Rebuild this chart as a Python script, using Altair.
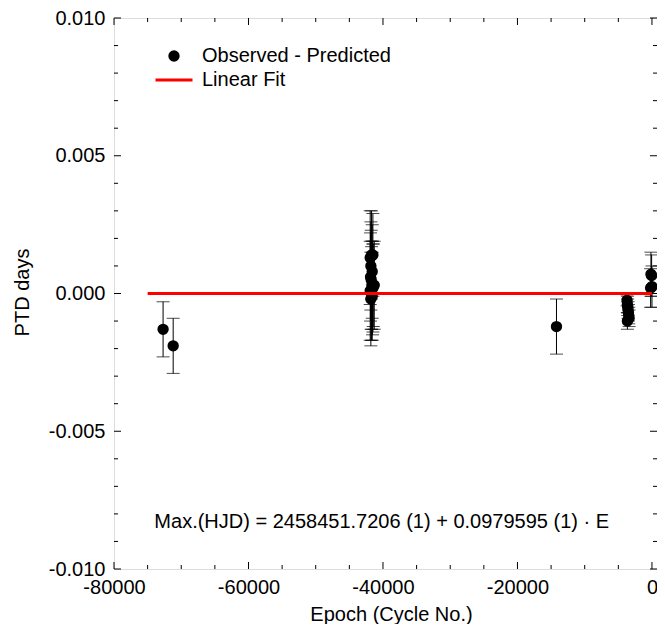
import altair as alt
import pandas as pd

OBS = "Observed - Predicted"
FIT = "Linear Fit"
FONT = "Liberation Sans"

# O-C data (epoch, residual in days, error in days)
epoch = [-72700, -71200,
         -41900, -41700, -41500, -41800, -41600, -41850, -41750, -41650,
         -41550, -41450, -41900, -41700, -41600, -41800, -41500, -41300,
         -14200,
         -3700, -3650, -3600, -3550, -3500, -3450, -3400, -3650,
         -150, -50, -200, 0]
oc = [-0.0013, -0.0019,
      0.0013, 0.0014, 0.0014, 0.0010, 0.0008, 0.0006, 0.0005, 0.0003,
      0.0002, 0.0003, 0.0001, 0.0000, -0.0001, -0.0002, 0.0002, 0.0003,
      -0.0012,
      -0.00025, -0.0004, -0.0005, -0.0006, -0.0007, -0.0008, -0.0009, -0.0010,
      0.0007, 0.00065, 0.0002, 0.00025]
err = [0.0010, 0.0010,
       0.0017, 0.0016, 0.0015, 0.0016, 0.0017, 0.0016, 0.0018, 0.0016,
       0.0017, 0.0015, 0.0018, 0.0017, 0.0016, 0.0017, 0.0016, 0.0016,
       0.0010,
       0.0002, 0.0003, 0.0003, 0.0003, 0.0003, 0.0003, 0.0003, 0.0003,
       0.0008, 0.00075, 0.0007, 0.00075]

fit_epoch = [-75000, 0]
fit_oc = [0.0, 0.0]

x_major = [-80000, -60000, -40000, -20000, 0]
x_minor = [-75000, -70000, -65000, -55000, -50000, -45000, -35000, -30000,
           -25000, -15000, -10000, -5000]
y_major = [-0.010, -0.005, 0.0, 0.005, 0.010]
y_minor = [-0.009, -0.008, -0.007, -0.006, -0.004, -0.003, -0.002, -0.001,
           0.001, 0.002, 0.003, 0.004, 0.006, 0.007, 0.008, 0.009]

equation = "Max.(HJD) = 2458451.7206 (1) + 0.0979595 (1) \u00b7 E"
eq_pos = [-74000, -0.0083]

W = 543
H = 551

obs_df = pd.DataFrame({"epoch": epoch, "oc": oc, "series": OBS})
obs_df["lo"] = [o - e for o, e in zip(oc, err)]
obs_df["hi"] = [o + e for o, e in zip(oc, err)]
fit_df = pd.DataFrame({"epoch": fit_epoch, "oc": fit_oc, "series": FIT})

xs = alt.Scale(domain=[-80000, 750], nice=False, zero=False)
ys = alt.Scale(domain=[-0.01, 0.01], nice=False, zero=False)

xaxis = alt.Axis(title="Epoch (Cycle No.)", values=x_major, tickSize=0, domain=False,
                 grid=False, labelFont=FONT, labelFontSize=20, labelColor="black",
                 labelPadding=8, labelExpr="(datum.value < 0 ? '-' : '') + format(abs(datum.value), 'd')",
                 titleFont=FONT, titleFontSize=20, titleFontWeight="normal", titleColor="black",
                 titleX=277, titleY=45, titleAlign="center", titleBaseline="middle",
                 labelFlush=False, labelOverlap=False)
yaxis = alt.Axis(title="PTD days", values=y_major, tickSize=0, domain=False, grid=False,
                 labelFont=FONT, labelFontSize=20, labelColor="black", labelPadding=9,
                 labelExpr="(datum.value < 0 ? '-' : '') + format(abs(datum.value), '.3f')",
                 titleFont=FONT, titleFontSize=20, titleFontWeight="normal", titleColor="black",
                 titleX=-92, titleY=274, titleAlign="center", titleBaseline="middle", titleAngle=270,
                 labelFlush=False, labelOverlap=False)


def X(field):
    return alt.X(field, type="quantitative", scale=xs, axis=xaxis)


def Y(field):
    return alt.Y(field, type="quantitative", scale=ys, axis=yaxis)


legend = alt.Legend(
    title=None, orient="none", legendX=40, legendY=28,
    labelFont=FONT, labelFontSize=20, labelColor="black", labelOffset=8,
    labelLimit=400, rowPadding=4, padding=0, clipHeight=20,
    symbolStrokeWidth=3, symbolOpacity=1,
)
fill_scale = alt.Scale(domain=[OBS, FIT], range=["black", "#ff0000"])
stroke_scale = alt.Scale(domain=[OBS, FIT], range=["black", "#ff0000"])
shape_scale = alt.Scale(domain=[OBS, FIT], range=["circle", "stroke"])
size_scale = alt.Scale(domain=[OBS, FIT], range=[70, 1369])

layers = []

# inward tick marks on all four sides
for vals, ln in ((x_major, 7), (x_minor, 4)):
    tdf = pd.DataFrame({"v": vals})
    layers.append(alt.Chart(tdf).mark_rule(color="black", strokeWidth=1).encode(
        x=X("v"), y=alt.value(H), y2=alt.value(H - ln)))
    layers.append(alt.Chart(tdf).mark_rule(color="black", strokeWidth=1).encode(
        x=X("v"), y=alt.value(0), y2=alt.value(ln)))
for vals, ln in ((y_major, 7), (y_minor, 4)):
    tdf = pd.DataFrame({"v": vals})
    layers.append(alt.Chart(tdf).mark_rule(color="black", strokeWidth=1).encode(
        y=Y("v"), x=alt.value(0), x2=alt.value(ln)))
    layers.append(alt.Chart(tdf).mark_rule(color="black", strokeWidth=1).encode(
        y=Y("v"), x=alt.value(W), x2=alt.value(W - ln)))

base = alt.Chart(obs_df)
layers.append(base.mark_rule(color="black", strokeWidth=1).encode(
    x=X("epoch"), y=Y("lo"), y2="hi"))
layers.append(base.mark_tick(color="black", orient="horizontal", size=13, thickness=1).encode(
    x=X("epoch"), y=Y("lo")))
layers.append(base.mark_tick(color="black", orient="horizontal", size=13, thickness=1).encode(
    x=X("epoch"), y=Y("hi")))
layers.append(base.mark_point(filled=True, strokeWidth=3, opacity=1).encode(
    x=X("epoch"), y=Y("oc"),
    fill=alt.Fill("series:N", scale=fill_scale, legend=legend),
    stroke=alt.Stroke("series:N", scale=stroke_scale, legend=legend),
    shape=alt.Shape("series:N", scale=shape_scale, legend=legend),
    size=alt.Size("series:N", scale=size_scale, legend=legend)))
layers.append(alt.Chart(fit_df).mark_line(strokeWidth=3).encode(
    x=X("epoch"), y=Y("oc"),
    stroke=alt.Stroke("series:N", scale=stroke_scale, legend=legend)))

eq_df = pd.DataFrame({"x": [eq_pos[0]], "y": [eq_pos[1]], "t": [equation]})
layers.append(alt.Chart(eq_df).mark_text(align="left", baseline="middle", font=FONT,
                                          fontSize=20, color="black").encode(
    x=X("x"), y=Y("y"), text="t:N"))

chart = alt.layer(*layers).properties(
    width=W, height=H,
    padding={"left": 106, "top": 10, "right": 0, "bottom": 55},
    autosize=alt.AutoSizeParams(type="none"),
).configure_view(stroke="black", strokeWidth=1.5).configure(background="white")

chart.save("out.html", embed_options={"renderer": "svg", "actions": False})
